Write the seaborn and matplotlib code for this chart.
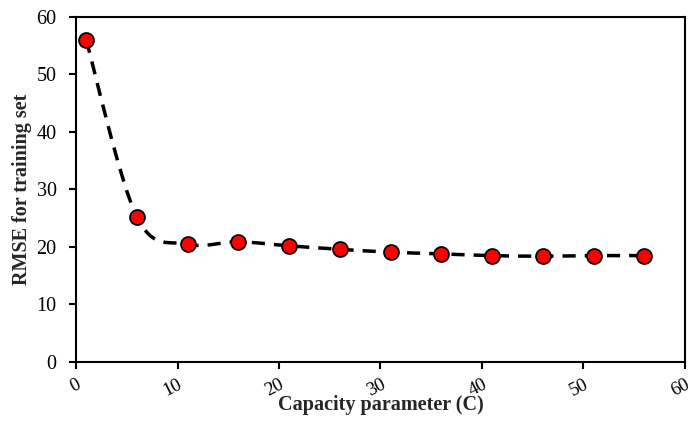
import numpy as np
import matplotlib
matplotlib.use("Agg")
import matplotlib.pyplot as plt
from matplotlib.path import Path
from matplotlib.patches import PathPatch
import seaborn as sns
import pandas as pd

# data
capacity = [1, 6, 11, 16, 21, 26, 31, 36, 41, 46, 51, 56]
rmse = [56.0, 25.2, 20.5, 20.9, 20.2, 19.6, 19.1, 18.8, 18.5, 18.4, 18.5, 18.5]
x_ticks = [0, 10, 20, 30, 40, 50, 60]
y_ticks = [0, 10, 20, 30, 40, 50, 60]

sns.set_style("ticks")
plt.rcParams['font.family'] = ['Liberation Serif', 'DejaVu Serif']

df = pd.DataFrame({"C": capacity, "RMSE": rmse})

fig = plt.figure(figsize=(6.88, 4.34), dpi=100)
ax = fig.add_axes([0.1105, 0.1659, 0.885, 0.795])

# smoothed dashed line (catmull-rom style bezier through the data, like excel)
pts = np.column_stack([capacity, rmse])
verts = [pts[0]]
codes = [Path.MOVETO]
n = len(pts)
for i in range(n - 1):
    p0 = pts[i - 1] if i > 0 else pts[i]
    p1 = pts[i]
    p2 = pts[i + 1]
    p3 = pts[i + 2] if i + 2 < n else pts[i + 1]
    c1 = p1 + (p2 - p0) / 6.0
    c2 = p2 - (p3 - p1) / 6.0
    verts += [c1, c2, p2]
    codes += [Path.CURVE4] * 3
patch = PathPatch(Path(verts, codes), fill=False, edgecolor="black",
                  lw=2.5, linestyle=(0, (3.8, 2.6)), zorder=2)
ax.add_patch(patch)

sns.scatterplot(data=df, x="C", y="RMSE", ax=ax, color="#ff0000",
                edgecolor="black", linewidth=1.3, s=115, zorder=3)

ax.set_xlim(0, 60)
ax.set_ylim(0, 60)
ax.set_xticks(x_ticks)
ax.set_yticks(y_ticks)
ax.tick_params(axis="both", direction="out", length=5, width=1.5,
               labelsize=14.5, colors="black")
ax.tick_params(axis="x", pad=5, labelsize=13.5)
ax.tick_params(axis="y", pad=9)
plt.setp(ax.get_xticklabels(), rotation=27, ha="right", va="top",
         rotation_mode="anchor")
for s in ax.spines.values():
    s.set_linewidth(1.5)
    s.set_color("black")

ax.set_xlabel("Capacity parameter (C)", fontsize=14.5, fontweight="bold", labelpad=-3)
ax.set_ylabel("RMSE for training set", fontsize=14.5, fontweight="bold", labelpad=3)

fig.savefig("out.png", dpi=100)
